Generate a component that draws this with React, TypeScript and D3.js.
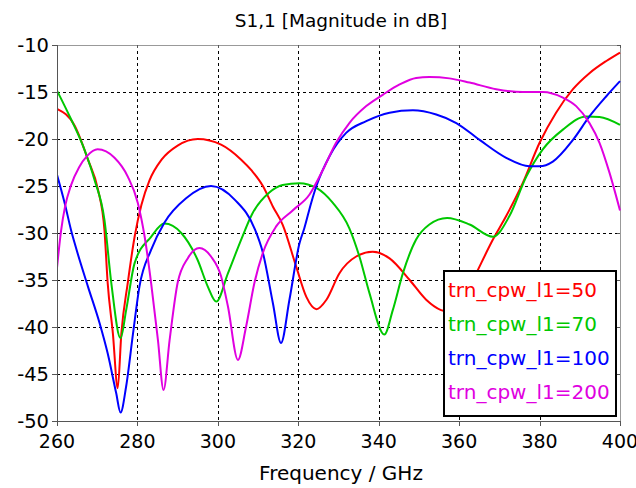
import React from "react";
import * as d3 from "d3";

const TITLE = "S1,1 [Magnitude in dB]";
const X_LABEL = "Frequency / GHz";
const X_TICKS = [260, 280, 300, 320, 340, 360, 380, 400];
const Y_TICKS = [-10, -15, -20, -25, -30, -35, -40, -45, -50];

const SERIES_NAMES = ["trn_cpw_l1=50", "trn_cpw_l1=70", "trn_cpw_l1=100", "trn_cpw_l1=200"];
const SERIES_COLORS = ["#ff0000", "#00c800", "#0000ff", "#e000e0"];

const F50 = [260, 264.4, 267.7, 270.2, 271.8, 272.6, 273.9, 275.1, 276.0, 277.6, 279.3, 281, 283, 286, 290, 295, 300.8, 305.8, 308.5, 311.2, 313.7, 316.1, 319.5, 322, 324.5, 327, 330.2, 334.4, 338.5, 342.7, 347.7, 351.8, 355.5, 358, 361, 364.7, 368.4, 371.7, 375.8, 380, 384.1, 388.3, 392.4, 396.6, 400];
const V50 = [-16.8, -18.6, -22.2, -25.4, -29.7, -35.3, -40.7, -46.5, -40.7, -35.3, -30.4, -27.0, -24.4, -22.2, -20.7, -20.0, -20.6, -22.2, -23.4, -25.0, -27.2, -29.1, -33.6, -36.8, -38.1, -37.1, -34.3, -32.5, -32.0, -32.7, -35.0, -37.1, -38.2, -38.4, -37.2, -33.9, -30.7, -28.2, -24.7, -20.4, -17.2, -14.7, -13.0, -11.7, -10.8];

const F70 = [260, 263.5, 266.8, 269.3, 271.8, 273.5, 275.8, 277.2, 279.3, 283.4, 286.7, 290.9, 295, 297.5, 299.6, 302.5, 305.8, 308.5, 312.8, 316.1, 320.3, 324.5, 328.6, 332.7, 335.2, 337.7, 341.4, 343.5, 346, 349.3, 352.6, 357, 362.6, 368.4, 372.5, 376.7, 380.8, 385.8, 391.6, 394.9, 400];
const V70 = [-14.85, -17.9, -21.1, -24.3, -28.6, -35.3, -41.2, -38.2, -33.2, -30.4, -29.0, -30.0, -32.9, -35.7, -37.3, -34.3, -30.7, -28.0, -25.7, -24.9, -24.7, -25.2, -26.8, -29.5, -32.5, -36.4, -40.8, -38.2, -34.3, -30.7, -29.1, -28.4, -29.1, -30.4, -28.2, -24.0, -21.1, -19.0, -17.6, -17.65, -18.5];

const F100 = [260, 261.9, 263.5, 264.4, 267.7, 270.6, 272.6, 274.7, 275.8, 277.2, 278.9, 280.5, 283.4, 286.7, 292.1, 298.3, 304.3, 309.1, 311.2, 313.7, 315.7, 317.8, 320.3, 321.5, 323.2, 324.5, 327.8, 331.9, 336.9, 342.7, 348.5, 354.3, 359.3, 365.1, 371.7, 377.5, 380, 383.3, 388.3, 392.4, 396.6, 400];
const V100 = [-23.8, -26.8, -29.7, -31.1, -35.7, -39.6, -42.8, -47.0, -49.1, -46.3, -40.7, -35.7, -31.8, -28.9, -26.3, -25.0, -26.5, -29.5, -32.1, -37.5, -41.7, -37.1, -31.1, -29.5, -26.8, -25.0, -21.8, -19.35, -18.1, -17.2, -16.95, -17.4, -18.3, -20.1, -22.0, -22.9, -22.9, -22.4, -20.1, -17.6, -15.45, -13.85];

const F200 = [260, 261, 262, 263.5, 265.5, 267.5, 270.1, 274.3, 277.6, 280.1, 281.8, 283.4, 285.1, 286.5, 288, 290, 292.5, 295.4, 298.3, 300.8, 302.5, 305, 307, 309.1, 311.2, 314.5, 318.6, 322.8, 326.1, 329.4, 332.7, 336.9, 341, 345.2, 349.3, 352.6, 357.6, 362.6, 369.2, 375.8, 380.8, 385.8, 389.1, 392.4, 394.9, 397.4, 400];
const V200 = [-33.7, -29.8, -27.2, -24.9, -23.0, -21.8, -21.1, -22.0, -24.0, -26.8, -30.4, -35.3, -41.4, -46.7, -41.4, -35.3, -32.7, -31.6, -32.5, -34.6, -37.8, -43.5, -40.0, -35.3, -32.1, -29.3, -27.6, -25.9, -23.3, -20.4, -18.3, -16.5, -15.3, -14.2, -13.5, -13.4, -13.55, -14.0, -14.7, -15.0, -15.0, -15.6, -16.5, -18.3, -20.4, -23.6, -27.6];

const FREQS = [F50, F70, F100, F200];
const VALUES = [V50, V70, V100, V200];

const W = 636;
const H = 488;
const L = 57;
const R = 620;
const T = 45;
const B = 421;

export default function App() {
  const x = d3.scaleLinear().domain([260, 400]).range([L, R]);
  const y = d3.scaleLinear().domain([-50, -10]).range([B, T]);
  const line = d3
    .line<[number, number]>()
    .x((d) => x(d[0]))
    .y((d) => y(d[1]))
    .curve(d3.curveMonotoneX);
  const px = (v: number) => Math.round(v) + 0.5;
  const font = "'DejaVu Sans', Verdana, sans-serif";

  return (
    <svg
      width={W}
      height={H}
      style={{ position: "absolute", left: 0, top: 0, background: "#fff" }}
      fontFamily={font}
    >
      <rect x={0} y={0} width={W} height={H} fill="#fff" />
      <defs>
        <clipPath id="plotclip">
          <rect x={L} y={T} width={R - L + 1} height={B - T + 1} />
        </clipPath>
      </defs>
      {X_TICKS.slice(1, -1).map((t) => (
        <line key={"gx" + t} x1={px(x(t))} x2={px(x(t))} y1={T} y2={B} stroke="#000" strokeWidth={1} strokeDasharray="3,3" />
      ))}
      {Y_TICKS.slice(1, -1).map((t) => (
        <line key={"gy" + t} x1={L} x2={R} y1={px(y(t))} y2={px(y(t))} stroke="#000" strokeWidth={1} strokeDasharray="3,3" />
      ))}
      <line x1={L} x2={px(R)} y1={px(T)} y2={px(T)} stroke="#999" strokeWidth={1} />
      <line x1={px(R)} x2={px(R)} y1={T} y2={B} stroke="#999" strokeWidth={1} />
      <g clipPath="url(#plotclip)">
        {FREQS.map((fs, i) => (
          <path
            key={"s" + i}
            d={line(fs.map((f, j) => [f, VALUES[i][j]] as [number, number])) || ""}
            fill="none"
            stroke={SERIES_COLORS[i]}
            strokeWidth={2}
            strokeLinejoin="round"
          />
        ))}
      </g>
      <line x1={px(L)} x2={px(L)} y1={T} y2={B + 1} stroke="#555" strokeWidth={1} />
      <line x1={L} x2={px(R)} y1={px(B)} y2={px(B)} stroke="#555" strokeWidth={1} />
      {Y_TICKS.map((t) => (
        <g key={"yt" + t}>
          <line x1={L - 5} x2={L} y1={px(y(t))} y2={px(y(t))} stroke="#555" />
          <line x1={R - 3} x2={R} y1={px(y(t))} y2={px(y(t))} stroke="#555" />
          <text x={49} y={y(t)} dy="0.36em" textAnchor="end" fontSize={19.5} fill="#000">
            {t}
          </text>
        </g>
      ))}
      {X_TICKS.map((t) => (
        <g key={"xt" + t}>
          <line x1={px(x(t))} x2={px(x(t))} y1={B} y2={B + 5} stroke="#555" />
          <line x1={px(x(t))} x2={px(x(t))} y1={T} y2={T + 3} stroke="#555" />
          <text x={x(t)} y={448} textAnchor="middle" fontSize={19} fill="#000">
            {t}
          </text>
        </g>
      ))}
      <text x={341} y={480} textAnchor="middle" fontSize={20} fill="#000">
        {X_LABEL}
      </text>
      <text x={341} y={27} textAnchor="middle" fontSize={18.5} fill="#000">
        {TITLE}
      </text>
      <rect x={444} y={271} width={172} height={145} fill="#fff" stroke="#000" strokeWidth={2} />
      {SERIES_NAMES.map((n, i) => (
        <text key={"lg" + i} x={448} y={297 + i * 34} fontSize={20} fill={SERIES_COLORS[i]}>
          {n}
        </text>
      ))}
    </svg>
  );
}
